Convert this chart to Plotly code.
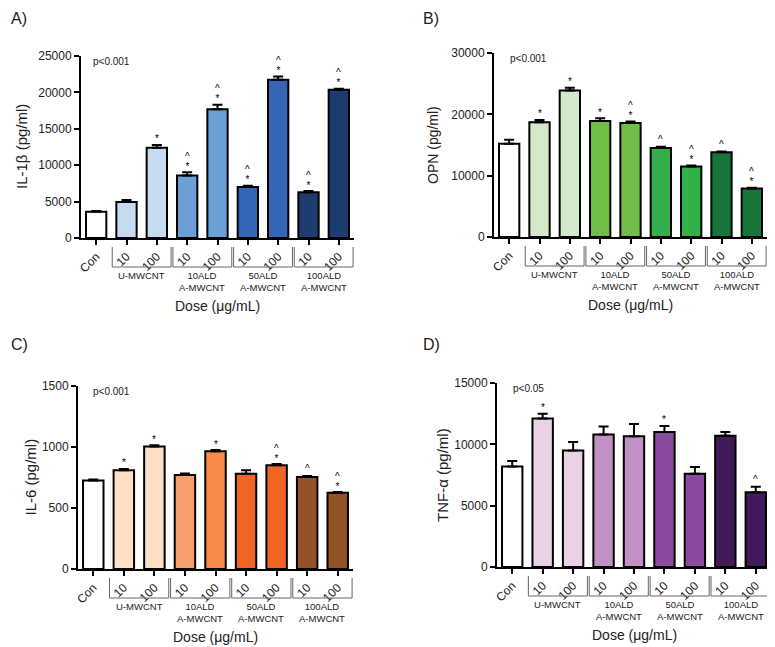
import plotly.graph_objects as go

W, H = 775, 647
OFF = 8  # page body margin in the browser

# ---------------- data ----------------
tick_labels = ["Con", "10", "100", "10", "100", "10", "100", "10", "100"]
group_labels = ["U-MWCNT", "10ALD<br>A-MWCNT", "50ALD<br>A-MWCNT", "100ALD<br>A-MWCNT"]

il1b_mean = [3600, 4950, 12400, 8600, 17700, 7000, 21750, 6300, 20350]
il1b_err = [120, 280, 380, 420, 600, 180, 420, 150, 150]
il1b_sig = ["", "", "*", "^*", "^*", "^*", "^*", "^*", "^*"]

opn_mean = [15200, 18700, 23900, 18900, 18600, 14500, 11500, 13800, 7900]
opn_err = [650, 380, 420, 450, 250, 200, 150, 120, 150]
opn_sig = ["", "*", "*", "*", "^*", "^", "^*", "^", "^*"]

il6_mean = [725, 810, 1005, 770, 965, 780, 850, 755, 625]
il6_err = [8, 10, 10, 12, 10, 30, 10, 8, 6]
il6_sig = ["", "*", "*", "", "*", "", "^*", "^", "^*"]

tnf_mean = [8200, 12100, 9500, 10800, 10650, 11000, 7600, 10700, 6100]
tnf_err = [450, 400, 700, 650, 1000, 500, 550, 300, 450]
tnf_sig = ["", "*", "", "", "", "*", "", "", "^"]

il1b_colors = ["#ffffff", "#c6dbf0", "#c6dbf0", "#6b9fd6", "#6b9fd6", "#3566b5", "#3566b5", "#1f3c70", "#1f3c70"]
opn_colors = ["#ffffff", "#d4e9c9", "#d4e9c9", "#70bd48", "#70bd48", "#33b04a", "#33b04a", "#17743a", "#17743a"]
il6_colors = ["#ffffff", "#fde0c4", "#fde0c4", "#f5a06c", "#f68c47", "#f16524", "#f16524", "#955226", "#955226"]
tnf_colors = ["#ffffff", "#e9d2e6", "#e9d2e6", "#c290c4", "#c290c4", "#8a4b9e", "#8a4b9e", "#42195a", "#42195a"]

panels = [
    dict(letter="A)", ytitle="IL-1β (pg/ml)", mean=il1b_mean, err=il1b_err, sig=il1b_sig,
         colors=il1b_colors, ymax=25000, dtick=5000, pval="p<0.001",
         px=(81, 354), py=(56, 238), letter_xy=(19, 19), ytitle_x=21, ytitle_size=15,
         pval_x=111),
    dict(letter="B)", ytitle="OPN (pg/ml)", mean=opn_mean, err=opn_err, sig=opn_sig,
         colors=opn_colors, ymax=30000, dtick=10000, pval="p<0.001",
         px=(494, 767), py=(53, 237), letter_xy=(431, 19), ytitle_x=433, ytitle_size=14,
         pval_x=528),
    dict(letter="C)", ytitle="IL-6 (pg/ml)", mean=il6_mean, err=il6_err, sig=il6_sig,
         colors=il6_colors, ymax=1500, dtick=500, pval="p<0.001",
         px=(78, 353), py=(386, 569), letter_xy=(19, 345), ytitle_x=30, ytitle_size=15,
         pval_x=111),
    dict(letter="D)", ytitle="TNF-α (pg/ml)", mean=tnf_mean, err=tnf_err, sig=tnf_sig,
         colors=tnf_colors, ymax=15000, dtick=5000, pval="p<0.05",
         px=(497, 771), py=(383, 567), letter_xy=(431, 344), ytitle_x=442, ytitle_size=15,
         pval_x=528),
]

FONT = "Arial, Liberation Sans, Helvetica, sans-serif"


def fx(p):
    return (p - OFF) / W


def fy(p):
    return 1 - (p - OFF) / H


def paper_text(x, y, text, size, angle=0):
    return dict(xref="paper", yref="paper", x=fx(x), y=fy(y), text=text,
                showarrow=False, xanchor="center", yanchor="middle", textangle=angle,
                font=dict(family=FONT, size=size, color="#222"))


fig = go.Figure()
annotations = []
shapes = []
xcat = list(range(len(tick_labels)))

CARET = '<span style="font-size:10px">^</span>'
STAR = '<span style="font-size:10px">*</span>'

for i, p in enumerate(panels):
    n = i + 1
    xa = "x" if n == 1 else f"x{n}"
    ya = "y" if n == 1 else f"y{n}"
    fig.add_trace(go.Bar(
        x=xcat, y=p["mean"], xaxis=xa, yaxis=ya,
        marker=dict(color=p["colors"], line=dict(color="#000000", width=2)),
        error_y=dict(type="data", symmetric=False, array=p["err"],
                     arrayminus=[0] * len(p["err"]), color="#000000",
                     thickness=2, width=5),
        showlegend=False, hoverinfo="skip",
    ))
    xkey = "xaxis" if n == 1 else f"xaxis{n}"
    ykey = "yaxis" if n == 1 else f"yaxis{n}"
    fig.update_layout({
        xkey: dict(domain=[fx(p["px"][0]), fx(p["px"][1])], anchor=ya,
                   range=[-0.5, 8.5], tickmode="array", tickvals=xcat,
                   ticktext=tick_labels, tickangle=-45, ticks="outside",
                   ticklen=5, tickwidth=2, tickcolor="#000",
                   showline=True, linecolor="#000", linewidth=2,
                   showgrid=False, zeroline=False, automargin=False,
                   tickfont=dict(family=FONT, size=12, color="#222")),
        ykey: dict(domain=[fy(p["py"][1]), fy(p["py"][0])], anchor=xa,
                   range=[0, p["ymax"]], dtick=p["dtick"], tick0=0, tickformat="d",
                   ticks="outside", ticklen=5, tickwidth=2, tickcolor="#000",
                   showline=True, linecolor="#000", linewidth=2,
                   showgrid=False, zeroline=False, automargin=False,
                   tickfont=dict(family=FONT, size=12, color="#222")),
    })
    bottom = p["py"][1]
    for k in range(4):
        x0 = 2 * k + 0.53
        x1 = 2 * k + 2.47
        ytop = fy(bottom + 9)
        ybot = fy(bottom + 29)
        for xx in (x0, x1):
            shapes.append(dict(type="line", xref=xa, yref="paper", x0=xx, x1=xx,
                               y0=ytop, y1=ybot, line=dict(color="#666", width=1)))
        shapes.append(dict(type="line", xref=xa, yref="paper", x0=x0, x1=x1,
                           y0=ybot, y1=ybot, line=dict(color="#666", width=1)))
        annotations.append(dict(xref=xa, yref="paper", x=2 * k + 1.5, y=fy(bottom + 30),
                                text=group_labels[k], showarrow=False, yanchor="top",
                                xanchor="center",
                                font=dict(family=FONT, size=9.5, color="#222")))
    annotations.append(paper_text((p["px"][0] + p["px"][1]) / 2, bottom + 68,
                                  "Dose (μg/mL)", 14))
    annotations.append(paper_text(p["ytitle_x"], (p["py"][0] + p["py"][1]) / 2,
                                  p["ytitle"], p["ytitle_size"], angle=-90))
    annotations.append(paper_text(p["letter_xy"][0], p["letter_xy"][1], p["letter"], 16))
    annotations.append(paper_text(p["pval_x"], p["py"][0] + 5, p["pval"], 10))
    for j, s in enumerate(p["sig"]):
        if not s:
            continue
        top = p["mean"][j] + p["err"][j]
        if s == "^*":
            text, shift = CARET + "<br>" + STAR, 11
        elif s == "*":
            text, shift = STAR, 6
        else:
            text, shift = CARET, 7
        annotations.append(dict(xref=xa, yref=ya, x=j, y=top, text=text,
                                showarrow=False, xanchor="center", yanchor="middle",
                                yshift=shift,
                                font=dict(family=FONT, size=8, color="#000")))

fig.update_layout(
    width=W, height=H, margin=dict(l=0, r=0, t=0, b=0, autoexpand=False),
    paper_bgcolor="#ffffff", plot_bgcolor="#ffffff",
    bargap=0.33, annotations=annotations, shapes=shapes,
    font=dict(family=FONT),
)

fig.write_html("out.html")
